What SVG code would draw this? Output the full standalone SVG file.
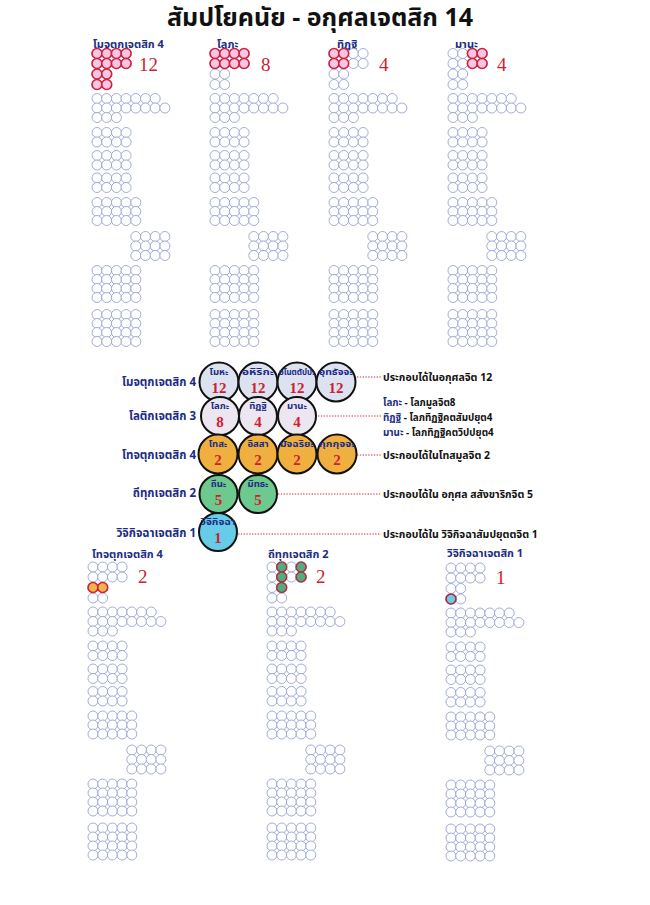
<svg xmlns="http://www.w3.org/2000/svg" xmlns:xlink="http://www.w3.org/1999/xlink" width="650" height="905" viewBox="0 0 650 905">
<style>
.g circle{fill:#fff;stroke:#8c98cc;stroke-width:0.8}
.hp{fill:#f7c6e4;stroke:#d0203c;stroke-width:1.6}
.ho{fill:#f6b445;stroke:#d0203c;stroke-width:1.6}
.hg{fill:#4fae80;stroke:#b03040;stroke-width:1.6}
.hc{fill:#66cde3;stroke:#b02040;stroke-width:1.6}
.th{font-family:"Noto Sans Thai","Noto Sans Thai UI","Garuda","Loma","Tlwg Typo","Noto Sans",sans-serif;font-weight:bold}
.lab{font-size:11px;fill:#1c2c84}
.llab{font-size:11.5px;fill:#1c2c84}
.num{font-family:"Liberation Serif",serif;font-size:19px;fill:#d02030}
.big{stroke:#111;stroke-width:2}
.cn{font-size:9.5px;fill:#1c2c84;text-anchor:middle}
.cv{font-family:"Liberation Serif",serif;font-size:15px;font-weight:bold;fill:#d02030;text-anchor:middle}
.rt{font-size:10.5px;fill:#111}
.rs{font-size:9.8px;fill:#111}
.conn line{stroke:#d03040;stroke-width:1;stroke-dasharray:1.4 1.4}
</style>
<defs>
<g id="grid" class="g">
<circle cx="0" cy="0" r="5"/><circle cx="9.7" cy="0" r="5"/><circle cx="19.4" cy="0" r="5"/><circle cx="29.1" cy="0" r="5"/>
<circle cx="0" cy="10" r="5"/><circle cx="9.7" cy="10" r="5"/><circle cx="19.4" cy="10" r="5"/><circle cx="29.1" cy="10" r="5"/>
<circle cx="0" cy="20.5" r="5"/><circle cx="9.7" cy="20.5" r="5"/>
<circle cx="0" cy="31" r="5"/><circle cx="9.7" cy="31" r="5"/>
<circle cx="0" cy="45" r="5"/><circle cx="9.7" cy="45" r="5"/><circle cx="19.4" cy="45" r="5"/><circle cx="29.1" cy="45" r="5"/><circle cx="38.8" cy="45" r="5"/><circle cx="48.5" cy="45" r="5"/><circle cx="58.2" cy="45" r="5"/>
<circle cx="0" cy="54.5" r="5"/><circle cx="9.7" cy="54.5" r="5"/><circle cx="19.4" cy="54.5" r="5"/><circle cx="29.1" cy="54.5" r="5"/><circle cx="38.8" cy="54.5" r="5"/><circle cx="48.5" cy="54.5" r="5"/><circle cx="58.2" cy="54.5" r="5"/><circle cx="67.9" cy="54.5" r="5"/>
<circle cx="0" cy="64" r="5"/><circle cx="9.7" cy="64" r="5"/><circle cx="19.4" cy="64" r="5"/>
<circle cx="0" cy="79" r="5"/><circle cx="9.7" cy="79" r="5"/><circle cx="19.4" cy="79" r="5"/><circle cx="29.1" cy="79" r="5"/>
<circle cx="0" cy="88.5" r="5"/><circle cx="9.7" cy="88.5" r="5"/><circle cx="19.4" cy="88.5" r="5"/><circle cx="29.1" cy="88.5" r="5"/>
<circle cx="0" cy="102" r="5"/><circle cx="9.7" cy="102" r="5"/><circle cx="19.4" cy="102" r="5"/><circle cx="29.1" cy="102" r="5"/>
<circle cx="0" cy="111.5" r="5"/><circle cx="9.7" cy="111.5" r="5"/><circle cx="19.4" cy="111.5" r="5"/><circle cx="29.1" cy="111.5" r="5"/>
<circle cx="0" cy="124.5" r="5"/><circle cx="9.7" cy="124.5" r="5"/><circle cx="19.4" cy="124.5" r="5"/><circle cx="29.1" cy="124.5" r="5"/>
<circle cx="0" cy="134" r="5"/><circle cx="9.7" cy="134" r="5"/><circle cx="19.4" cy="134" r="5"/><circle cx="29.1" cy="134" r="5"/>
<circle cx="0" cy="149" r="5"/><circle cx="9.7" cy="149" r="5"/><circle cx="19.4" cy="149" r="5"/><circle cx="29.1" cy="149" r="5"/><circle cx="38.8" cy="149" r="5"/>
<circle cx="0" cy="158" r="5"/><circle cx="9.7" cy="158" r="5"/><circle cx="19.4" cy="158" r="5"/><circle cx="29.1" cy="158" r="5"/><circle cx="38.8" cy="158" r="5"/>
<circle cx="0" cy="167" r="5"/><circle cx="9.7" cy="167" r="5"/><circle cx="19.4" cy="167" r="5"/><circle cx="29.1" cy="167" r="5"/><circle cx="38.8" cy="167" r="5"/>
<circle cx="38.8" cy="183" r="5"/><circle cx="48.5" cy="183" r="5"/><circle cx="58.2" cy="183" r="5"/><circle cx="67.9" cy="183" r="5"/>
<circle cx="38.8" cy="192.5" r="5"/><circle cx="48.5" cy="192.5" r="5"/><circle cx="58.2" cy="192.5" r="5"/><circle cx="67.9" cy="192.5" r="5"/>
<circle cx="38.8" cy="202" r="5"/><circle cx="48.5" cy="202" r="5"/><circle cx="58.2" cy="202" r="5"/><circle cx="67.9" cy="202" r="5"/>
<circle cx="0" cy="217" r="5"/><circle cx="9.7" cy="217" r="5"/><circle cx="19.4" cy="217" r="5"/><circle cx="29.1" cy="217" r="5"/><circle cx="38.8" cy="217" r="5"/>
<circle cx="0" cy="226" r="5"/><circle cx="9.7" cy="226" r="5"/><circle cx="19.4" cy="226" r="5"/><circle cx="29.1" cy="226" r="5"/><circle cx="38.8" cy="226" r="5"/>
<circle cx="0" cy="235" r="5"/><circle cx="9.7" cy="235" r="5"/><circle cx="19.4" cy="235" r="5"/><circle cx="29.1" cy="235" r="5"/><circle cx="38.8" cy="235" r="5"/>
<circle cx="0" cy="244" r="5"/><circle cx="9.7" cy="244" r="5"/><circle cx="19.4" cy="244" r="5"/><circle cx="29.1" cy="244" r="5"/><circle cx="38.8" cy="244" r="5"/>
<circle cx="0" cy="261" r="5"/><circle cx="9.7" cy="261" r="5"/><circle cx="19.4" cy="261" r="5"/><circle cx="29.1" cy="261" r="5"/><circle cx="38.8" cy="261" r="5"/>
<circle cx="0" cy="270" r="5"/><circle cx="9.7" cy="270" r="5"/><circle cx="19.4" cy="270" r="5"/><circle cx="29.1" cy="270" r="5"/><circle cx="38.8" cy="270" r="5"/>
<circle cx="0" cy="279" r="5"/><circle cx="9.7" cy="279" r="5"/><circle cx="19.4" cy="279" r="5"/><circle cx="29.1" cy="279" r="5"/><circle cx="38.8" cy="279" r="5"/>
<circle cx="0" cy="288" r="5"/><circle cx="9.7" cy="288" r="5"/><circle cx="19.4" cy="288" r="5"/><circle cx="29.1" cy="288" r="5"/><circle cx="38.8" cy="288" r="5"/>
</g>
</defs>
<rect width="650" height="905" fill="#fff"/>
<text class="th" x="320" y="26" font-size="25" text-anchor="middle" fill="#111">สัมปโยคนัย - อกุศลเจตสิก 14</text>

<g id="chart-moha">
<text class="th lab" x="93" y="48">โมจตุกเจตสิก 4</text>
<use xlink:href="#grid" href="#grid" transform="translate(97,53.5)"/>
<g class="hp" transform="translate(97,53.5)">
<circle cx="0" cy="0" r="5"/><circle cx="9.7" cy="0" r="5"/><circle cx="19.4" cy="0" r="5"/><circle cx="29.1" cy="0" r="5"/>
<circle cx="0" cy="10" r="5"/><circle cx="9.7" cy="10" r="5"/><circle cx="19.4" cy="10" r="5"/><circle cx="29.1" cy="10" r="5"/>
<circle cx="0" cy="20.5" r="5"/><circle cx="9.7" cy="20.5" r="5"/>
<circle cx="0" cy="31" r="5"/><circle cx="9.7" cy="31" r="5"/>
</g>
<text class="num" x="139" y="71">12</text>
</g>

<g id="chart-lobha">
<text class="th lab" x="217" y="48">โลภะ</text>
<use xlink:href="#grid" href="#grid" transform="translate(215,53.5)"/>
<g class="hp" transform="translate(215,53.5)">
<circle cx="0" cy="0" r="5"/><circle cx="9.7" cy="0" r="5"/><circle cx="19.4" cy="0" r="5"/><circle cx="29.1" cy="0" r="5"/>
<circle cx="0" cy="10" r="5"/><circle cx="9.7" cy="10" r="5"/><circle cx="19.4" cy="10" r="5"/><circle cx="29.1" cy="10" r="5"/>
</g>
<text class="num" x="261" y="71">8</text>
</g>

<g id="chart-ditthi">
<text class="th lab" x="337" y="48">ทิฏฐิ</text>
<use xlink:href="#grid" href="#grid" transform="translate(334,53.5)"/>
<g class="hp" transform="translate(334,53.5)">
<circle cx="0" cy="0" r="5"/><circle cx="9.7" cy="0" r="5"/>
<circle cx="0" cy="10" r="5"/><circle cx="9.7" cy="10" r="5"/>
</g>
<text class="num" x="379" y="71">4</text>
</g>

<g id="chart-mana">
<text class="th lab" x="455" y="48">มานะ</text>
<use xlink:href="#grid" href="#grid" transform="translate(453,53.5)"/>
<g class="hp" transform="translate(453,53.5)">
<circle cx="19.4" cy="0" r="5"/><circle cx="29.1" cy="0" r="5"/>
<circle cx="19.4" cy="10" r="5"/><circle cx="29.1" cy="10" r="5"/>
</g>
<text class="num" x="497" y="71">4</text>
</g>

<g class="conn" id="connectors">
<line x1="357" y1="377" x2="381" y2="377"/>
<line x1="318" y1="416" x2="381" y2="416"/>
<line x1="357" y1="455" x2="381" y2="455"/>
<line x1="278" y1="494" x2="381" y2="494"/>
<line x1="238" y1="534" x2="381" y2="534"/>
</g>

<g id="row-moha">
<text class="th llab" x="196" y="386" text-anchor="end">โมจตุกเจตสิก 4</text>
<text class="th rt" x="383" y="381">ประกอบได้ในอกุศลจิต 12</text>
</g>
<g id="n-moha"><circle class="big" cx="219" cy="382" r="19.5" fill="#dde2f0"/><text class="th cn" x="219" y="375">โมหะ</text><text class="cv" x="219" y="393">12</text></g>
<g id="n-ahirika"><circle class="big" cx="258" cy="382" r="19.5" fill="#dde2f0"/><text class="th cn" x="258" y="375" textLength="32" lengthAdjust="spacingAndGlyphs">อหิริกะ</text><text class="cv" x="258" y="393">12</text></g>
<g id="n-anottappa"><circle class="big" cx="297" cy="382" r="19.5" fill="#dde2f0"/><text class="th cn" x="297" y="375" textLength="36" lengthAdjust="spacingAndGlyphs">อโนตตัปปะ</text><text class="cv" x="297" y="393">12</text></g>
<g id="n-uddhacca"><circle class="big" cx="336" cy="382" r="19.5" fill="#dde2f0"/><text class="th cn" x="336" y="375" textLength="34" lengthAdjust="spacingAndGlyphs">อุทธัจจะ</text><text class="cv" x="336" y="393">12</text></g>

<g id="row-lobha">
<text class="th llab" x="196" y="420" text-anchor="end">โลติกเจตสิก 3</text>
<text class="th rs" x="383" y="405.5"><tspan fill="#1c2c84">โลภะ</tspan> - โลภมูลจิต8</text>
<text class="th rs" x="383" y="420.5"><tspan fill="#1c2c84">ทิฏฐิ</tspan> - โลภทิฏฐิคตสัมปยุต4</text>
<text class="th rs" x="383" y="435.5"><tspan fill="#1c2c84">มานะ</tspan> - โลภทิฏฐิคตวิปปยุต4</text>
</g>
<g id="n-lobha"><circle class="big" cx="220" cy="416" r="19" fill="#ece6f1"/><text class="th cn" x="220" y="409">โลภะ</text><text class="cv" x="220" y="427">8</text></g>
<g id="n-ditthi"><circle class="big" cx="258" cy="416" r="19" fill="#ece6f1"/><text class="th cn" x="258" y="409">ทิฏฐิ</text><text class="cv" x="258" y="427">4</text></g>
<g id="n-mana"><circle class="big" cx="297" cy="416" r="19" fill="#ece6f1"/><text class="th cn" x="297" y="409">มานะ</text><text class="cv" x="297" y="427">4</text></g>

<g id="row-dosa">
<text class="th llab" x="196" y="459" text-anchor="end">โทจตุกเจตสิก 4</text>
<text class="th rt" x="383" y="459">ประกอบได้ในโทสมูลจิต 2</text>
</g>
<g id="n-dosa"><circle class="big" cx="218" cy="454" r="19.5" fill="#f0b040"/><text class="th cn" x="218" y="447">โทสะ</text><text class="cv" x="218" y="465">2</text></g>
<g id="n-issa"><circle class="big" cx="258" cy="454" r="19.5" fill="#f0b040"/><text class="th cn" x="258" y="447">อิสสา</text><text class="cv" x="258" y="465">2</text></g>
<g id="n-macchariya"><circle class="big" cx="297" cy="454" r="19.5" fill="#f0b040"/><text class="th cn" x="297" y="447" textLength="34" lengthAdjust="spacingAndGlyphs">มัจฉริยะ</text><text class="cv" x="297" y="465">2</text></g>
<g id="n-kukkucca"><circle class="big" cx="337" cy="454" r="19.5" fill="#f0b040"/><text class="th cn" x="337" y="447" textLength="36" lengthAdjust="spacingAndGlyphs">กุกกุจจะ</text><text class="cv" x="337" y="465">2</text></g>

<g id="row-thina">
<text class="th llab" x="196" y="497" text-anchor="end">ถีทุกเจตสิก 2</text>
<text class="th rt" x="383" y="498">ประกอบได้ใน อกุศล สสังขาริกจิต 5</text>
</g>
<g id="n-thina"><circle class="big" cx="218.5" cy="494" r="19" fill="#6dc98e"/><text class="th cn" x="218.5" y="487">ถีนะ</text><text class="cv" x="218.5" y="505" fill="#8a3020">5</text></g>
<g id="n-middha"><circle class="big" cx="258" cy="494" r="19" fill="#6dc98e"/><text class="th cn" x="258" y="487">มิทธะ</text><text class="cv" x="258" y="505" fill="#8a3020">5</text></g>

<g id="row-vicikiccha">
<text class="th llab" x="196" y="537" text-anchor="end">วิจิกิจฉาเจตสิก 1</text>
<text class="th rt" x="383" y="538">ประกอบได้ใน วิจิกิจฉาสัมปยุตตจิต 1</text>
</g>
<g id="n-vicikiccha"><circle class="big" cx="218" cy="532" r="19" fill="#66cce8"/><text class="th cn" x="218" y="525" textLength="35" lengthAdjust="spacingAndGlyphs">วิจิกิจฉา</text><text class="cv" x="218" y="543" fill="#8a2020">1</text></g>

<g id="chart-dosa">
<text class="th lab" x="92" y="558">โทจตุกเจตสิก 4</text>
<use xlink:href="#grid" href="#grid" transform="translate(93,567)"/>
<g class="ho" transform="translate(93,567)">
<circle cx="0" cy="20.5" r="5"/><circle cx="9.7" cy="20.5" r="5"/>
</g>
<text class="num" x="138" y="583">2</text>
</g>

<g id="chart-thina">
<text class="th lab" x="268" y="558">ถีทุกเจตสิก 2</text>
<use xlink:href="#grid" href="#grid" transform="translate(272,567)"/>
<g class="hg" transform="translate(272,567)">
<circle cx="9.7" cy="0" r="5"/><circle cx="29.1" cy="0" r="5"/>
<circle cx="9.7" cy="10" r="5"/><circle cx="29.1" cy="10" r="5"/>
<circle cx="9.7" cy="20.5" r="5"/>
</g>
<text class="num" x="316" y="583">2</text>
</g>

<g id="chart-vicikiccha">
<text class="th lab" x="447" y="557">วิจิกิจฉาเจตสิก 1</text>
<use xlink:href="#grid" href="#grid" transform="translate(451,568)"/>
<g class="hc" transform="translate(451,568)">
<circle cx="0" cy="31" r="5"/>
</g>
<text class="num" x="496" y="584">1</text>
</g>
</svg>
